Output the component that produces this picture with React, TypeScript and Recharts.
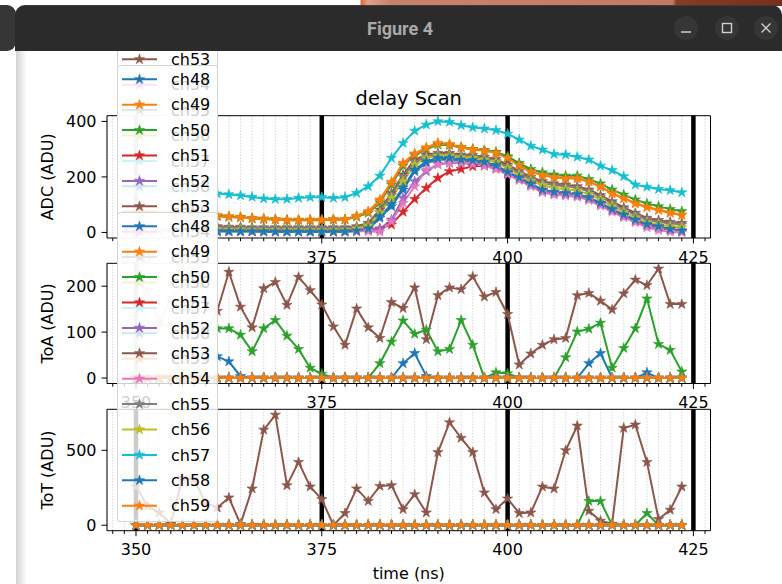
import React from "react";
import { LineChart, Line, XAxis, YAxis, CartesianGrid, ReferenceLine } from "recharts";

const FONT = "DejaVu Sans, sans-serif";

// sample times (ns), one every 1.5625 ns
const times = [
  350, 351.5625, 353.125, 354.6875, 356.25, 357.8125, 359.375, 360.9375,
  362.5, 364.0625, 365.625, 367.1875, 368.75, 370.3125, 371.875, 373.4375,
  375, 376.5625, 378.125, 379.6875, 381.25, 382.8125, 384.375, 385.9375,
  387.5, 389.0625, 390.625, 392.1875, 393.75, 395.3125, 396.875, 398.4375,
  400, 401.5625, 403.125, 404.6875, 406.25, 407.8125, 409.375, 410.9375,
  412.5, 414.0625, 415.625, 417.1875, 418.75, 420.3125, 421.875, 423.4375,
];
const xTicks = [346.875, 348.4375, ...times, 425, 426.5625];
const majorTicks = [350, 375, 400, 425];
const markerLines = [350, 375, 400, 425];

const channels = ["ch48", "ch49", "ch50", "ch51", "ch52", "ch53", "ch54", "ch55", "ch56", "ch57", "ch58", "ch59"];
const colors = [
  "#1f77b4", "#ff7f0e", "#2ca02c", "#d62728", "#9467bd", "#8c564b",
  "#e377c2", "#7f7f7f", "#bcbd22", "#17becf", "#1f77b4", "#ff7f0e",
];

// ADC
const adcCh48 = [6, 5, 5, 5, 4, 4, 4, 3, 3, 3, 3, 2, 2, 2, 2, 2, 2, 2, 2, 4, 10, 52, 94, 154, 220, 250, 262, 262, 256, 254, 248, 236, 212, 192, 170, 148, 140, 136, 132, 120, 100, 80, 60, 42, 28, 20, 10, 4];
const adcCh49 = [74, 72, 71, 70, 68, 66, 64, 62, 58, 56, 52, 50, 48, 46, 46, 46, 46, 48, 48, 60, 76, 118, 182, 250, 284, 306, 322, 318, 308, 300, 296, 288, 270, 244, 220, 208, 200, 196, 196, 184, 166, 142, 124, 106, 92, 82, 72, 64];
const adcCh50 = [70, 68, 68, 66, 64, 62, 60, 58, 56, 54, 50, 48, 46, 44, 44, 44, 44, 46, 46, 56, 70, 108, 172, 240, 278, 300, 316, 314, 306, 300, 296, 290, 274, 250, 228, 216, 208, 204, 204, 192, 176, 154, 136, 118, 104, 94, 84, 76];
const adcCh51 = [10, 9, 9, 8, 8, 7, 7, 6, 6, 6, 5, 5, 5, 5, 5, 5, 5, 5, 5, 5, 8, 14, 28, 74, 120, 160, 196, 220, 228, 238, 240, 230, 214, 196, 174, 152, 144, 140, 136, 124, 104, 82, 62, 44, 28, 20, 12, 6];
const adcCh52 = [12, 11, 11, 10, 10, 9, 9, 8, 8, 8, 7, 7, 7, 7, 7, 7, 7, 7, 7, 7, 8, 12, 46, 124, 184, 220, 246, 250, 250, 248, 244, 232, 212, 194, 172, 150, 142, 138, 134, 122, 102, 80, 60, 42, 24, 16, 10, 6];
const adcCh53 = [28, 26, 28, 26, 24, 22, 22, 22, 20, 20, 18, 18, 18, 18, 18, 18, 18, 18, 18, 22, 34, 82, 142, 208, 262, 280, 286, 286, 280, 278, 272, 264, 244, 222, 200, 184, 176, 172, 166, 154, 134, 112, 90, 70, 52, 44, 38, 34];
const adcCh54 = [9, 8, 8, 7, 7, 6, 6, 6, 5, 5, 4, 4, 4, 4, 4, 4, 4, 4, 4, 4, 4, 2, 40, 106, 166, 226, 244, 252, 250, 246, 240, 228, 208, 188, 166, 144, 136, 132, 128, 116, 96, 74, 54, 36, 18, 8, 2, 0];
const adcCh55 = [22, 20, 22, 20, 18, 17, 17, 16, 15, 15, 14, 14, 14, 14, 14, 14, 14, 14, 14, 17, 28, 74, 134, 200, 254, 274, 280, 280, 274, 272, 266, 258, 238, 216, 194, 178, 170, 166, 160, 148, 128, 106, 84, 64, 46, 38, 32, 28];
const adcCh56 = [15, 14, 14, 13, 12, 12, 11, 11, 10, 10, 9, 9, 9, 9, 8, 8, 8, 8, 9, 14, 24, 70, 124, 184, 244, 268, 276, 276, 270, 268, 262, 254, 232, 208, 186, 170, 160, 156, 150, 138, 118, 96, 74, 54, 36, 28, 22, 18];
const adcCh57 = [152, 150, 151, 149, 148, 146, 143, 140, 137, 133, 128, 122, 120, 120, 124, 127, 127, 124, 127, 142, 166, 204, 268, 322, 366, 388, 400, 398, 386, 378, 374, 368, 355, 334, 312, 298, 282, 280, 272, 262, 240, 224, 202, 172, 164, 156, 152, 144];
const adcCh58 = [8, 7, 7, 6, 6, 5, 5, 5, 4, 4, 4, 4, 3, 3, 3, 3, 3, 3, 4, 6, 14, 58, 102, 162, 226, 256, 268, 268, 262, 260, 254, 242, 218, 198, 176, 154, 146, 142, 138, 126, 106, 84, 64, 46, 30, 22, 12, 6];
const adcCh59 = [72, 70, 70, 68, 66, 64, 62, 60, 56, 54, 50, 48, 46, 44, 44, 44, 44, 46, 46, 58, 74, 114, 178, 246, 282, 304, 320, 316, 306, 298, 294, 286, 268, 242, 218, 206, 198, 194, 194, 182, 164, 140, 122, 104, 90, 80, 70, 62];

// ToA
const flatZero = [0, 0, 0, 0, 0, 0, 0, 0, 0, 0, 0, 0, 0, 0, 0, 0, 0, 0, 0, 0, 0, 0, 0, 0, 0, 0, 0, 0, 0, 0, 0, 0, 0, 0, 0, 0, 0, 0, 0, 0, 0, 0, 0, 0, 0, 0, 0, 0];
const toaCh48 = [0, 0, 0, 0, 0, 15, 40, 47, 36, 4, 0, 0, 0, 0, 0, 0, 0, 0, 0, 0, 0, 0, 0, 32, 54, 4, 0, 0, 0, 0, 0, 0, 0, 0, 0, 0, 0, 0, 0, 32, 54, 0, 0, 0, 12, 0, 0, 0];
const toaCh50 = [80, 100, 118, 112, 96, 114, 110, 108, 108, 94, 58, 108, 126, 92, 63, 22, 9, 0, 0, 0, 0, 32, 79, 125, 96, 105, 58, 63, 126, 72, 0, 12, 10, 0, 0, 0, 0, 45, 101, 107, 120, 22, 65, 108, 173, 74, 61, 14];
const toaCh53 = [150, 190, 120, 170, 200, 140, 95, 146, 231, 155, 110, 195, 209, 159, 220, 191, 160, 112, 72, 151, 110, 87, 165, 152, 197, 84, 180, 197, 193, 221, 177, 187, 139, 29, 53, 72, 84, 87, 180, 185, 168, 149, 184, 214, 202, 238, 161, 161];

// ToT
const totCh50 = [0, 0, 0, 0, 0, 0, 0, 0, 0, 0, 0, 0, 0, 0, 0, 0, 0, 0, 0, 0, 0, 0, 0, 0, 0, 0, 0, 0, 0, 0, 0, 0, 0, 0, 0, 0, 0, 0, 0, 161, 161, 0, 0, 0, 80, 0, 0, 0];
const totCh53 = [257, 128, 84, 10, 317, 305, 150, 117, 184, 7, 244, 637, 737, 266, 421, 257, 173, 0, 80, 244, 161, 261, 266, 106, 206, 84, 487, 686, 582, 487, 217, 106, 177, 80, 84, 257, 244, 500, 664, 95, 29, 8, 649, 671, 421, 40, 102, 257];

const adcSeries = [adcCh48, adcCh49, adcCh50, adcCh51, adcCh52, adcCh53, adcCh54, adcCh55, adcCh56, adcCh57, adcCh58, adcCh59];
const toaSeries = [toaCh48, flatZero, toaCh50, flatZero, flatZero, toaCh53, flatZero, flatZero, flatZero, flatZero, flatZero, flatZero];
const totSeries = [flatZero, flatZero, totCh50, flatZero, flatZero, totCh53, flatZero, flatZero, flatZero, flatZero, flatZero, flatZero];

function buildRows(series: number[][]) {
  return times.map((t, i) => {
    const row: Record<string, number> = { t };
    channels.forEach((c, j) => {
      row[c] = series[j][i];
    });
    return row;
  });
}

const W = 782;
const H = 584;
const X_DOMAIN: [number, number] = [346.1, 427.3];

function starPath(cx: number, cy: number, R = 5.4) {
  let d = "";
  for (let i = 0; i < 10; i++) {
    const r = i % 2 === 0 ? R : R * 0.382;
    const a = -Math.PI / 2 + (i * Math.PI) / 5;
    d += (i === 0 ? "M" : "L") + (cx + r * Math.cos(a)).toFixed(2) + "," + (cy + r * Math.sin(a)).toFixed(2);
  }
  return d + "Z";
}

const starDot = (color: string) => (p: any) => {
  if (p.cx == null || p.cy == null) return <g key={`e-${p.index}`} />;
  return <path key={`s-${p.index}`} d={starPath(p.cx, p.cy)} fill={color} stroke={color} strokeWidth={0.6} />;
};

function TimeTick(props: any) {
  const { x, y, payload } = props;
  const major = majorTicks.includes(payload.value);
  return (
    <g>
      <line x1={x} x2={x} y1={y} y2={y + (major ? 5.5 : 3.2)} stroke="#000" strokeWidth={1} />
      {major && (
        <text x={x} y={y + 24.5} textAnchor="middle" fontSize={16} fontFamily={FONT} fill="#000">
          {payload.value}
        </text>
      )}
    </g>
  );
}

interface PanelProps {
  rows: Record<string, number>[];
  top: number;
  bottom: number;
  yDomain: [number, number];
  yTicks: number[];
}

function Panel({ rows, top, bottom, yDomain, yTicks }: PanelProps) {
  return (
    <div style={{ position: "absolute", left: 0, top: 0 }}>
      <LineChart
        width={W}
        height={H}
        data={rows}
        margin={{ top, right: W - 710.5, left: 67, bottom: H - bottom - 30 }}
      >
        <CartesianGrid horizontal={false} stroke="#b8b8b8" strokeDasharray="1 2" strokeWidth={0.8} />
        <XAxis
          type="number"
          dataKey="t"
          domain={X_DOMAIN}
          ticks={xTicks}
          interval={0}
          allowDataOverflow
          tickSize={0}
          tickMargin={0}
          tickLine={false}
          stroke="#000"
          height={30}
          tick={(p: any) => <TimeTick {...p} />}
        />
        <YAxis
          type="number"
          domain={yDomain}
          ticks={yTicks}
          interval={0}
          allowDataOverflow
          width={40}
          tickSize={5.5}
          tickMargin={5}
          stroke="#000"
          tick={{ fill: "#000", fontSize: 16, fontFamily: FONT }}
        />
        <ReferenceLine y={yDomain[1]} stroke="#000" strokeWidth={1} />
        <ReferenceLine x={X_DOMAIN[1]} stroke="#000" strokeWidth={1} />
        {markerLines.map((v) => (
          <ReferenceLine key={v} x={v} stroke="#000" strokeWidth={4.5} />
        ))}
        {channels.map((c, i) => (
          <Line
            key={c}
            type="linear"
            dataKey={c}
            stroke={colors[i]}
            strokeWidth={2}
            dot={starDot(colors[i])}
            activeDot={false}
            isAnimationActive={false}
          />
        ))}
      </LineChart>
    </div>
  );
}

const ROW_GAP = 25.4;

function LegendBox({ firstCenter }: { firstCenter: number }) {
  const padTop = 14.3;
  const height = padTop + 11 * ROW_GAP + 16;
  return (
    <div
      style={{
        position: "absolute",
        left: 116.7,
        top: firstCenter - padTop,
        width: 101.6,
        height,
        background: "rgba(255,255,255,0.8)",
        border: "1px solid rgba(204,204,204,0.8)",
        borderRadius: 3.5,
        boxSizing: "border-box",
      }}
    >
      <svg width={101.6} height={height} style={{ position: "absolute", left: -1, top: -1, overflow: "visible" }}>
        {channels.map((c, i) => {
          const y = padTop + i * ROW_GAP;
          return (
            <g key={c}>
              <line x1={5} x2={40} y1={y} y2={y} stroke={colors[i]} strokeWidth={2} />
              <path d={starPath(22.5, y)} fill={colors[i]} stroke={colors[i]} strokeWidth={0.6} />
              <text x={54} y={y + 5.6} fontSize={16} fontFamily={FONT} fill="#000">
                {c}
              </text>
            </g>
          );
        })}
      </svg>
    </div>
  );
}

function WindowChrome() {
  return (
    <svg width={W} height={51} style={{ position: "absolute", left: 0, top: 0 }}>
      <defs>
        <linearGradient id="desk" x1="0" x2="1" y1="0" y2="0">
          <stop offset="0.46" stopColor="#ffffff" />
          <stop offset="0.462" stopColor="#e06a3a" />
          <stop offset="0.47" stopColor="#dca28c" />
          <stop offset="0.5" stopColor="#c9826a" />
          <stop offset="0.86" stopColor="#c47a62" />
          <stop offset="0.865" stopColor="#8a3a22" />
          <stop offset="1" stopColor="#7a2f1a" />
        </linearGradient>
      </defs>
      <rect x={0} y={0} width={W} height={6} fill="url(#desk)" />
      <rect x={-10} y={5} width={26} height={46} rx={9} fill="#363636" />
      <rect x={15} y={5} width={W - 15} height={46} rx={10} fill="#2b2b2b" />
      <rect x={15} y={30} width={W - 15} height={21} fill="#2b2b2b" />
      <line x1={25} x2={W} y1={5.5} y2={5.5} stroke="#3d3d3d" />
      <text x={400} y={34.5} textAnchor="middle" fontSize={18} fontWeight="bold" fontFamily="Roboto, sans-serif" fill="#a9a9a9">
        Figure 4
      </text>
      <circle cx={686} cy={28} r={12} fill="#363636" />
      <line x1={681} x2={691} y1={32} y2={32} stroke="#cfcfcf" strokeWidth={1.5} />
      <circle cx={727} cy={28} r={12} fill="#363636" />
      <rect x={722.5} y={23.5} width={9} height={9} fill="none" stroke="#cfcfcf" strokeWidth={1.4} />
      <circle cx={766} cy={28} r={12} fill="#363636" />
      <path d="M761.5,23.5L770.5,32.5M770.5,23.5L761.5,32.5" stroke="#cfcfcf" strokeWidth={1.4} />
    </svg>
  );
}

export default function App() {
  const adcRows = buildRows(adcSeries);
  const toaRows = buildRows(toaSeries);
  const totRows = buildRows(totSeries);
  const cx = (107 + 710.5) / 2;
  return (
    <div style={{ position: "absolute", left: 0, top: 0, width: W, height: H, overflow: "hidden", background: "#fff" }}>
      <div
        style={{
          position: "absolute",
          left: 16,
          top: 50,
          width: 11,
          height: H - 50,
          background: "linear-gradient(90deg, #d2d2d2, #ffffff)",
        }}
      />
      <Panel rows={adcRows} top={115.7} bottom={238} yDomain={[-20, 420.5]} yTicks={[0, 200, 400]} />
      <Panel rows={toaRows} top={263.3} bottom={383.5} yDomain={[-11.9, 249.9]} yTicks={[0, 100, 200]} />
      <Panel rows={totRows} top={409.3} bottom={530.7} yDomain={[-36.9, 774]} yTicks={[0, 500]} />
      <svg width={W} height={H} style={{ position: "absolute", left: 0, top: 0, pointerEvents: "none" }}>
        <text x={cx} y={105} textAnchor="middle" fontSize={19.4} fontFamily={FONT} fill="#000">
          delay Scan
        </text>
        <text x={cx} y={578.5} textAnchor="middle" fontSize={16} fontFamily={FONT} fill="#000">
          time (ns)
        </text>
        {[
          ["ADC (ADU)", (115.7 + 238) / 2],
          ["ToA (ADU)", (263.3 + 383.5) / 2],
          ["ToT (ADU)", (409.3 + 530.7) / 2],
        ].map(([label, y]) => (
          <text
            key={label as string}
            x={0}
            y={0}
            transform={`translate(53,${y}) rotate(-90)`}
            textAnchor="middle"
            fontSize={16}
            fontFamily={FONT}
            fill="#000"
          >
            {label}
          </text>
        ))}
      </svg>
      <LegendBox firstCenter={59.7 - 5 * ROW_GAP} />
      <LegendBox firstCenter={79.7} />
      <LegendBox firstCenter={226.3} />
      <WindowChrome />
    </div>
  );
}
